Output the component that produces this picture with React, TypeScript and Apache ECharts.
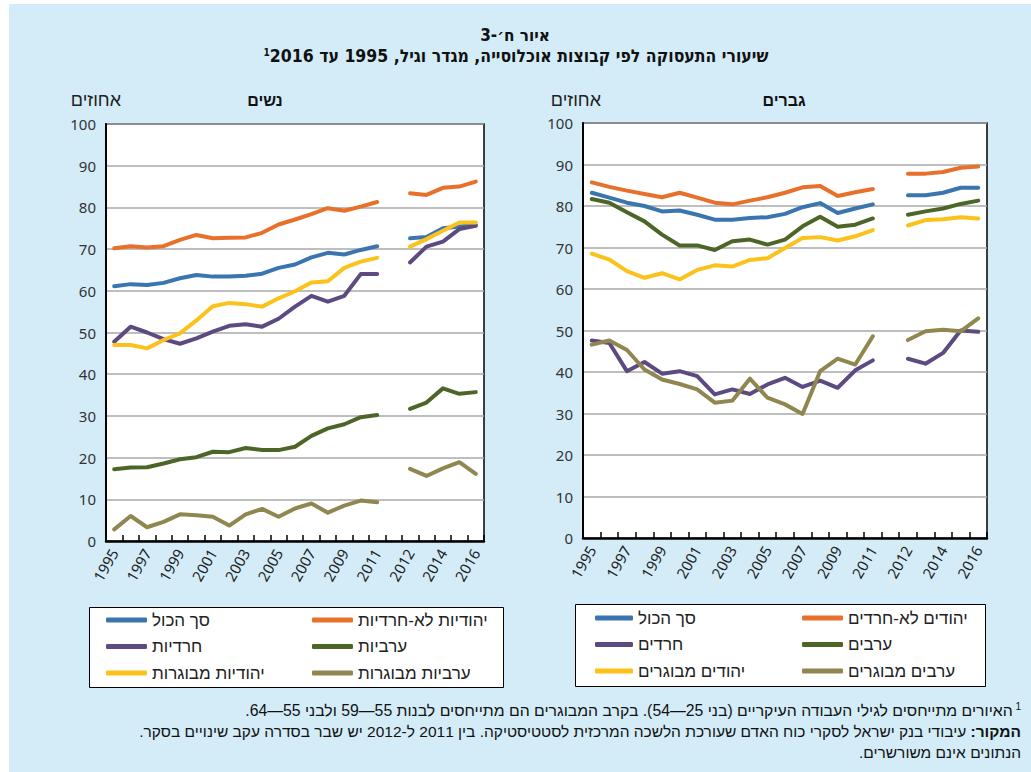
import React, { useEffect, useRef } from "react";
import * as echarts from "echarts";

const years = ["1995","1996","1997","1998","1999","2000","2001","2002","2003","2004","2005","2006","2007","2008","2009","2010","2011","","2012","2013","2014","2015","2016"];

const wTotal = [61.1,61.6,61.4,61.9,63.0,63.8,63.4,63.4,63.6,64.1,65.5,66.3,68.0,69.1,68.7,69.8,70.7,null,72.6,72.9,75.0,75.4,75.8];
const wNonHaredi = [70.2,70.7,70.4,70.7,72.2,73.4,72.6,72.7,72.8,73.9,75.9,77.1,78.4,79.8,79.2,80.2,81.3,null,83.4,83.0,84.7,85.0,86.2];
const wHaredi = [47.8,51.4,50.0,48.4,47.3,48.6,50.2,51.6,52.0,51.4,53.3,56.2,58.8,57.4,58.8,64.0,64.0,null,66.8,70.6,71.8,74.8,75.6];
const wArab = [17.2,17.6,17.7,18.6,19.6,20.1,21.4,21.3,22.3,21.8,21.8,22.6,25.2,27.0,28.0,29.7,30.2,null,31.7,33.2,36.6,35.3,35.7];
const wJewOld = [47.0,47.0,46.2,48.2,49.8,52.9,56.3,57.1,56.8,56.2,58.2,59.9,62.0,62.3,65.5,67.0,67.9,null,70.6,72.4,74.4,76.4,76.4];
const wArabOld = [2.8,6.0,3.3,4.6,6.4,6.2,5.8,3.7,6.4,7.7,5.8,7.8,9.0,6.8,8.5,9.7,9.3,null,17.3,15.6,17.4,18.9,16.1];

const mTotal = [83.2,82.0,80.8,80.0,78.7,78.9,77.9,76.7,76.7,77.1,77.3,78.1,79.7,80.7,78.3,79.4,80.4,null,82.6,82.6,83.2,84.4,84.4];
const mNonHaredi = [85.7,84.6,83.7,82.9,82.1,83.2,82.0,80.8,80.4,81.3,82.1,83.2,84.5,84.8,82.4,83.3,84.1,null,87.8,87.8,88.2,89.2,89.5];
const mHaredi = [47.6,47.0,40.2,42.4,39.6,40.2,39.0,34.6,35.8,34.7,37.0,38.6,36.4,37.9,36.2,40.4,42.8,null,43.2,42.0,44.6,50.0,49.7];
const mArab = [81.7,80.8,78.5,76.3,73.1,70.5,70.5,69.4,71.5,71.9,70.7,71.9,75.1,77.4,75.0,75.5,77.0,null,77.9,78.7,79.4,80.5,81.3];
const mJewOld = [68.5,67.1,64.3,62.7,63.8,62.3,64.6,65.7,65.4,67.0,67.4,69.9,72.3,72.5,71.7,72.7,74.2,null,75.3,76.6,76.8,77.3,77.0];
const mArabOld = [46.6,47.6,45.3,40.6,38.2,37.1,35.8,32.6,33.1,38.4,33.8,32.2,29.9,40.2,43.2,41.8,48.6,null,47.7,49.8,50.2,49.8,52.9];

const womenNames = ["סך הכול", "יהודיות לא-חרדיות", "חרדיות", "ערביות", "יהודיות מבוגרות", "ערביות מבוגרות"];
const menNames = ["סך הכול ", "יהודים לא-חרדים", "חרדים", "ערבים", "יהודים מבוגרים", "ערבים מבוגרים"];
const colors = ["#3b75b0", "#e8702b", "#5c4a80", "#4d6628", "#fcc21c", "#8f8650"];

const womenData = [wTotal, wNonHaredi, wHaredi, wArab, wJewOld, wArabOld];
const menData = [mTotal, mNonHaredi, mHaredi, mArab, mJewOld, mArabOld];

const RLM = "\u200F";
const rtl = (s: string) => RLM + s + RLM;

const HEB = "'Liberation Sans', 'DejaVu Sans', sans-serif";
const BOLD = "'Liberation Sans', 'DejaVu Sans', sans-serif";
const NARROW = "'Liberation Sans Narrow', 'DejaVu Sans Condensed', 'Liberation Sans', sans-serif";
const FOOT = "'Liberation Sans', 'DejaVu Sans', sans-serif";
const NUM = "'Noto Sans', 'Open Sans', sans-serif";

export default function App() {
  const ref = useRef<HTMLDivElement>(null);
  useEffect(() => {
    if (!ref.current) return;
    const chart = echarts.init(ref.current, null, { renderer: "svg" });

    const grids = [
      { left: 106, top: 124, width: 378, height: 417 },
      { left: 583, top: 123, width: 404, height: 415 },
    ];

    const xAxis = grids.map((_, i) => ({
      type: "category",
      gridIndex: i,
      data: years,
      boundaryGap: true,
      axisLine: { lineStyle: { color: "#000", width: 2.5 } },
      axisTick: { show: true, inside: true, length: 6, interval: 0, lineStyle: { color: "#000", width: 1.5 } },
      axisLabel: {
        interval: 1,
        rotate: 60,
        margin: 9,
        fontSize: 15,
        color: "#222",
        fontFamily: NUM,
      },
    }));

    const yAxis = grids.map((_, i) => ({
      type: "value",
      gridIndex: i,
      min: 0,
      max: 100,
      interval: 10,
      axisLine: { show: true, lineStyle: { color: "#000", width: 2 } },
      axisTick: { show: false },
      axisLabel: { fontSize: 15, color: "#333", margin: 10, fontFamily: NUM },
      splitLine: { lineStyle: { color: "#a8a8a8", width: 1.5 } },
    }));

    const mk = (names: string[], data: (number | null)[][], gi: number) =>
      names.map((n, k) => ({
        name: n,
        type: "line",
        xAxisIndex: gi,
        yAxisIndex: gi,
        data: data[k],
        showSymbol: false,
        symbol: "none",
        connectNulls: false,
        color: colors[k],
        lineStyle: { width: 4, color: colors[k], cap: "round", join: "round" },
        z: 2 + k,
      }));

    const legendCommon = {
      orient: "vertical",
      icon: "roundRect",
      itemWidth: 41,
      itemHeight: 5,
      itemGap: 8.5,
      padding: 0,
      textStyle: { fontSize: 17, color: "#222", fontFamily: HEB, lineHeight: 18, height: 18 },
      selectedMode: false,
    };

    const option: any = {
      animation: false,
      backgroundColor: "transparent",
      grid: grids.map((g) => ({
        ...g,
        show: true,
        backgroundColor: "#fff",
        borderColor: "#000",
        borderWidth: 1.5,
        containLabel: false,
      })),
      xAxis,
      yAxis,
      legend: [
        { ...legendCommon, left: 106, top: 611, data: [womenNames[0], womenNames[2], womenNames[4]] },
        { ...legendCommon, left: 312, top: 611, data: [womenNames[1], womenNames[3], womenNames[5]] },
        { ...legendCommon, left: 595, top: 609, itemWidth: 38, data: [menNames[0], menNames[2], menNames[4]] },
        { ...legendCommon, left: 802, top: 609, data: [menNames[1], menNames[3], menNames[5]] },
      ],
      series: [...mk(womenNames, womenData, 0), ...mk(menNames, menData, 1)],
      graphic: [
        { type: "rect", z: 0, shape: { x: 89.5, y: 607.5, width: 414, height: 80 }, style: { fill: "#fff", stroke: "#000", lineWidth: 1 } },
        { type: "rect", z: 0, shape: { x: 575.5, y: 604.5, width: 410, height: 82 }, style: { fill: "#fff", stroke: "#000", lineWidth: 1 } },
        { type: "text", x: 515, y: 35, style: { text: rtl("איור ח׳-3"), font: `bold 17px ${NARROW}`, fill: "#111", align: "center", verticalAlign: "middle" } },
        {
          type: "text", x: 516, y: 56,
          style: {
            text: "{s|1}{t|" + rtl("שיעורי התעסוקה לפי קבוצות אוכלוסייה, מגדר וגיל, 1995 עד 2016") + "}",
            align: "center", verticalAlign: "middle",
            rich: {
              t: { font: `bold 17.5px ${NARROW}`, fill: "#111" },
              s: { font: `bold 10px ${NARROW}`, fill: "#111", verticalAlign: "top", padding: [0, 0, 8, 0] },
            },
          },
        },
        { type: "text", x: 265, y: 100, style: { text: rtl("נשים"), font: `bold 16px ${BOLD}`, fill: "#111", align: "center", verticalAlign: "middle" } },
        { type: "text", x: 784, y: 100, style: { text: rtl("גברים"), font: `bold 16px ${BOLD}`, fill: "#111", align: "center", verticalAlign: "middle" } },
        { type: "text", x: 121, y: 100, style: { text: rtl("אחוזים"), font: `18px ${HEB}`, fill: "#222", align: "right", verticalAlign: "middle" } },
        { type: "text", x: 601, y: 100, style: { text: rtl("אחוזים"), font: `18px ${HEB}`, fill: "#222", align: "right", verticalAlign: "middle" } },
        {
          type: "text", x: 1021, y: 710,
          style: {
            text: "{t|" + rtl("האיורים מתייחסים לגילי העבודה העיקריים (בני 25—54). בקרב המבוגרים הם מתייחסים לבנות 55—59 ולבני 55—64.") + "}{s| 1}",
            align: "right", verticalAlign: "middle",
            rich: {
              t: { font: `15.8px ${FOOT}`, fill: "#111" },
              s: { font: `10px ${FOOT}`, fill: "#111", padding: [0, 0, 8, 0] },
            },
          },
        },
        {
          type: "text", x: 1021, y: 731,
          style: {
            text: "{t|" + rtl("עיבודי בנק ישראל לסקרי כוח האדם שעורכת הלשכה המרכזית לסטטיסטיקה. בין 2011 ל-2012 יש שבר בסדרה עקב שינויים בסקר.") + "}{b| " + rtl("המקור:") + "}",
            align: "right", verticalAlign: "middle",
            rich: {
              t: { font: `15.5px ${FOOT}`, fill: "#111" },
              b: { font: `bold 15.5px ${FOOT}`, fill: "#111" },
            },
          },
        },
        { type: "text", x: 1021, y: 752, style: { text: rtl("הנתונים אינם משורשרים."), font: `15.5px ${FOOT}`, fill: "#111", align: "right", verticalAlign: "middle" } },
      ],
    };
    chart.setOption(option);
    return () => chart.dispose();
  }, []);

  return (
    <div style={{ position: "fixed", left: 0, top: 0, width: 1031, height: 772, background: "#fff" }}>
      <div style={{ position: "absolute", left: 9, top: 4, right: 0, bottom: 0, background: "#d3ecf8" }} />
      <div ref={ref} style={{ position: "absolute", left: 0, top: 0, width: 1031, height: 772 }} />
    </div>
  );
}
